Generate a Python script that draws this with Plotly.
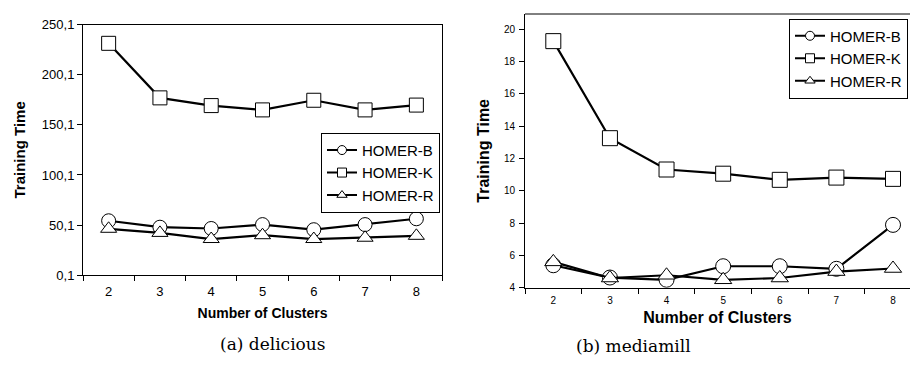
import plotly.graph_objects as go

clusters = ["2", "3", "4", "5", "6", "7", "8"]

# (a) delicious
del_homer_b = [54.4, 48.0, 46.7, 50.6, 45.5, 50.6, 56.4]
del_homer_k = [231.4, 177.0, 169.3, 165.0, 174.6, 165.0, 169.8]
del_homer_r = [46.4, 42.3, 36.2, 40.0, 36.2, 37.5, 39.4]

# (b) mediamill
med_homer_b = [5.39, 4.63, 4.49, 5.33, 5.33, 5.17, 7.89]
med_homer_k = [19.27, 13.26, 11.32, 11.06, 10.68, 10.82, 10.74]
med_homer_r = [5.60, 4.60, 4.77, 4.49, 4.60, 5.00, 5.19]

series_names = ["HOMER-B", "HOMER-K", "HOMER-R"]
symbols = ["circle", "square", "triangle-up"]

FONT = "Liberation Sans, Arial, sans-serif"
W, H = 910, 378

fig = go.Figure()

def add_series(values_list, xa, ya, legend, msize):
    for name, sym, vals in zip(series_names, symbols, values_list):
        fig.add_trace(go.Scatter(
            x=clusters, y=vals, name=name, mode="lines+markers",
            xaxis=xa, yaxis=ya, showlegend=False,
            line=dict(color="black", width=2.2),
            marker=dict(symbol=sym, size=msize, color="white",
                        line=dict(color="black", width=1)),
        ))
    # legend entries with smaller symbols
    for name, sym in zip(series_names, symbols):
        fig.add_trace(go.Scatter(
            x=[None], y=[None], name=name, mode="lines+markers",
            xaxis=xa, yaxis=ya, legend=legend, showlegend=True,
            line=dict(color="black", width=2),
            marker=dict(symbol=sym, size=9, color="white",
                        line=dict(color="black", width=1)),
        ))

add_series([del_homer_b, del_homer_k, del_homer_r], "x", "y", "legend", 14)
add_series([med_homer_b, med_homer_k, med_homer_r], "x2", "y2", "legend2", 15)

def px_x(p):
    return p / W

def px_y(p):
    return 1 - p / H

axis_common = dict(
    showgrid=False, zeroline=False, showline=True, linecolor="black",
    linewidth=1, ticks="outside", ticklen=5, tickcolor="black",
)

legend_common = dict(
    bgcolor="white", bordercolor="black", borderwidth=1,
    font=dict(size=15, family=FONT), itemwidth=30,
    tracegroupgap=0,
)

fig.update_layout(
    width=W, height=H, margin=dict(l=0, r=0, t=0, b=0),
    paper_bgcolor="white", plot_bgcolor="white",
    separators=",.",
    font=dict(family=FONT, color="black"),
    xaxis=dict(
        **axis_common, type="category", tickson="boundaries", mirror=True,
        domain=[px_x(83), px_x(442)], anchor="y", range=[-0.5, 6.5],
        tickfont=dict(size=13, family=FONT), ticklabelstandoff=4,
        title=dict(text="<b>Number of Clusters</b>", font=dict(size=14, family=FONT), standoff=10),
    ),
    yaxis=dict(
        **axis_common, mirror=True,
        domain=[px_y(279.3), px_y(18.3)], anchor="x",
        range=[0.1, 250.1], tick0=0.1, dtick=50, tickformat=".1f",
        tickfont=dict(size=13, family=FONT),
        title=dict(text="<b>Training Time</b>", font=dict(size=15, family=FONT), standoff=12),
    ),
    xaxis2=dict(
        **axis_common, type="category", tickson="boundaries",
        domain=[px_x(525), 1.0], anchor="y2", range=[-0.5, 6.3],
        tickfont=dict(size=10, family=FONT), ticklabelstandoff=3,
        title=dict(text="<b>Number of Clusters</b>", font=dict(size=16, family=FONT), standoff=7),
    ),
    yaxis2=dict(
        **axis_common,
        domain=[px_y(292.3), px_y(7.3)], anchor="x2",
        range=[4, 20.95], tick0=4, dtick=2,
        tickfont=dict(size=10, family=FONT), ticklabelstandoff=2,
        title=dict(text="<b>Training Time</b>", font=dict(size=16, family=FONT), standoff=10),
    ),
    legend=dict(x=px_x(321), y=px_y(131), xanchor="left", yanchor="top", **legend_common),
    legend2=dict(x=px_x(908), y=px_y(12), xanchor="right", yanchor="top", **legend_common),
    showlegend=True,
)

# top border of right panel
fig.add_shape(type="line", xref="x2 domain", yref="y2 domain",
              x0=0, x1=1, y0=1, y1=1, line=dict(color="black", width=1))

fig.add_annotation(text="(a) delicious", xref="paper", yref="paper",
                   x=px_x(218), y=px_y(363), showarrow=False,
                   font=dict(family="DejaVu Serif", size=17, color="black"))
fig.add_annotation(text="(b) mediamill", xref="paper", yref="paper",
                   x=px_x(693), y=px_y(365), showarrow=False,
                   font=dict(family="DejaVu Serif", size=17, color="black"))

fig.write_html("out.html")
